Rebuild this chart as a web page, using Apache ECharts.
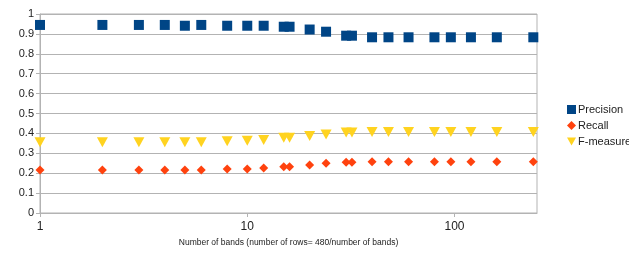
<!DOCTYPE html>
<html>
<head>
<meta charset="utf-8">
<script src="https://cdn.jsdelivr.net/npm/echarts@6/dist/echarts.min.js"></script>
<style>
  html, body { margin: 0; padding: 0; background: #fff; }
  #chart { width: 629px; height: 257px; }
</style>
</head>
<body>
<div id="chart"></div>
<script>
var bands = [1, 2, 3, 4, 5, 6, 8, 10, 12, 15, 16, 20, 24, 30, 32, 40, 48, 60, 80, 96, 120, 160, 240];
var precision = [0.945, 0.945, 0.945, 0.945, 0.941, 0.945, 0.941, 0.941, 0.941, 0.936, 0.936, 0.922, 0.911,
  0.891, 0.891, 0.883, 0.883, 0.883, 0.883, 0.883, 0.883, 0.883, 0.883];
var recall = [0.216, 0.216, 0.216, 0.216, 0.216, 0.216, 0.221, 0.221, 0.226, 0.233, 0.233, 0.241, 0.25,
  0.255, 0.255, 0.258, 0.258, 0.258, 0.258, 0.258, 0.258, 0.258, 0.258];
var fmeasure = [0.355, 0.355, 0.355, 0.355, 0.355, 0.355, 0.36, 0.363, 0.367, 0.378, 0.378, 0.387, 0.395,
  0.404, 0.404, 0.407, 0.407, 0.407, 0.407, 0.407, 0.407, 0.407, 0.407];

var triDown = 'path://M0,0 L10,0 L5,9 Z';

function pairs(vals) {
  return bands.map(function (b, i) { return [b, vals[i]]; });
}

var chart = echarts.init(document.getElementById('chart'));
chart.setOption({
  animation: false,
  textStyle: { fontFamily: 'Liberation Sans, Arial, sans-serif' },
  grid: {
    left: 40, right: 92, top: 14, bottom: 44,
    show: true, borderColor: '#b3b3b3', borderWidth: 1
  },
  legend: {
    orient: 'vertical',
    left: 562,
    top: 99,
    itemWidth: 9,
    itemHeight: 9,
    itemGap: 5,
    textStyle: { fontSize: 11, color: '#222', padding: [0, 0, 0, -3] },
    data: [
      { name: 'Precision', icon: 'rect' },
      { name: 'Recall', icon: 'diamond' },
      { name: 'F-measure', icon: triDown }
    ]
  },
  xAxis: {
    type: 'log',
    logBase: 10,
    min: 1,
    max: 250,
    name: 'Number of bands (number of rows= 480/number of bands)',
    nameLocation: 'middle',
    nameGap: 25,
    nameTextStyle: { fontSize: 8.5, color: '#222' },
    axisLine: { lineStyle: { color: '#b3b3b3' } },
    axisTick: { lineStyle: { color: '#b3b3b3' }, length: 4 },
    axisLabel: { fontSize: 12, color: '#222', showMaxLabel: false, margin: 8 },
    splitLine: { show: false }
  },
  yAxis: {
    type: 'value',
    min: 0,
    max: 1,
    interval: 0.1,
    axisLine: { show: true, lineStyle: { color: '#b3b3b3' } },
    axisTick: { show: true, length: 4, lineStyle: { color: '#b3b3b3' } },
    axisLabel: { fontSize: 11, color: '#222', margin: 6 },
    splitLine: { lineStyle: { color: '#b3b3b3' } }
  },
  series: [
    {
      name: 'Precision', type: 'scatter', symbol: 'rect', symbolSize: 10,
      itemStyle: { color: '#004586', opacity: 1 }, data: pairs(precision)
    },
    {
      name: 'Recall', type: 'scatter', symbol: 'diamond', symbolSize: 9,
      itemStyle: { color: '#ff420e', opacity: 1 }, data: pairs(recall)
    },
    {
      name: 'F-measure', type: 'scatter', symbol: triDown, symbolSize: [11, 10],
      itemStyle: { color: '#ffd320', opacity: 1 }, data: pairs(fmeasure)
    }
  ]
});
</script>
</body>
</html>
